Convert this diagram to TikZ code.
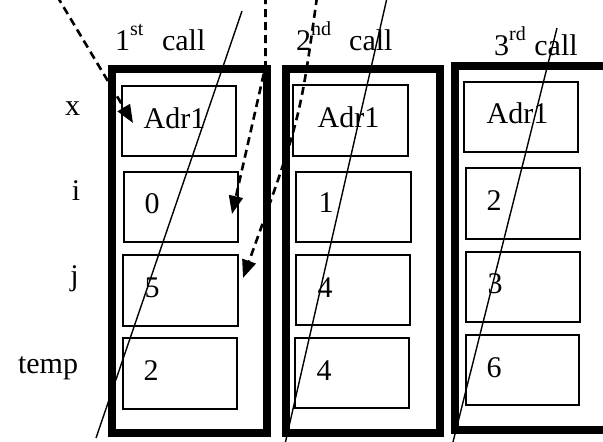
\documentclass[tikz,border=0pt]{standalone}
\usepackage{fontspec}
\setmainfont{Liberation Serif}
\usetikzlibrary{arrows.meta}
\newcommand{\supx}[1]{\raisebox{15pt}{\fontsize{20}{20}\selectfont #1}}
\begin{document}
\begin{tikzpicture}[x=1pt,y=-1pt,
  frame/.style={draw,line width=8pt,line join=miter},
  cell/.style={draw,line width=1.7pt,minimum width=114pt,minimum height=70pt,inner sep=0pt},
  txt/.style={anchor=base,inner sep=0pt,font=\fontsize{30}{30}\selectfont},
  ttl/.style={anchor=base west,inner sep=0pt,font=\fontsize{30}{30}\selectfont},
  slash/.style={line width=1.4pt},
  ptr/.style={line width=2.6pt,dash pattern=on 8pt off 5pt,-{Triangle[length=18pt,width=14pt]}}]
\useasboundingbox (0,0) rectangle (603,442);
\clip (0,0) rectangle (603,442);
% frames
\draw[frame] (112,69) rectangle (267,433);
\draw[frame] (286,69) rectangle (440,433);
\draw[frame] (455,66) rectangle (620,430);
% titles
\node[ttl] (t1) at (115,50) {1\supx{st}\hspace{18.5pt}call};
\node[ttl] (t2) at (296,50) {2\supx{nd}\hspace{18pt}call};
\node[ttl] (t3) at (494,55) {3\supx{rd}\hspace{8.5pt}call};
% row labels
\node[txt] (lx) at (72.5,115) {x};
\node[txt] (li) at (76,200) {i};
\node[txt] (lj) at (74.5,285.5) {j};
\node[txt] (lt) at (48,373) {temp};
% first call cells
\node[cell] (a1) at (179,121) {};
\node[cell] (b1) at (181,207) {};
\node[cell,minimum width=115pt,minimum height=71pt] (c1) at (180.5,290.5) {};
\node[cell,minimum height=71pt] (d1) at (180,373.5) {};
% second call cells
\node[cell,minimum width=115pt,minimum height=71pt] (a2) at (350.5,120.5) {};
\node[cell,minimum width=115pt] (b2) at (353.5,207) {};
\node[cell] (c2) at (353,290) {};
\node[cell] (d2) at (352,373) {};
% third call cells
\node[cell] (a3) at (521,117) {};
\node[cell,minimum height=71pt] (b3) at (523,203.5) {};
\node[cell] (c3) at (523,287) {};
\node[cell,minimum width=113pt] (d3) at (522.5,370) {};
% values
\node[txt] (va1) at (174.5,128) {Adr1};
\node[txt] (vb1) at (152,213) {0};
\node[txt] (vc1) at (152,297) {5};
\node[txt] (vd1) at (151,380) {2};
\node[txt] (va2) at (348.5,127) {Adr1};
\node[txt] (vb2) at (326,212) {1};
\node[txt] (vc2) at (325,297) {4};
\node[txt] (vd2) at (324,380) {4};
\node[txt] (va3) at (517.5,123) {Adr1};
\node[txt] (vb3) at (494,210) {2};
\node[txt] (vc3) at (495,293) {3};
\node[txt] (vd3) at (494,377) {6};
% slanted lines
\coordinate (s1a) at (242,11);  \coordinate (s1b) at (96,438);
\coordinate (s2a) at (387,-2);  \coordinate (s2b) at (285,444);
\coordinate (s3a) at (557,28);  \coordinate (s3b) at (452,446);
\draw[slash] (s1a) -- (s1b);
\draw[slash] (s2a) -- (s2b);
\draw[slash] (s3a) -- (s3b);
% dashed pointers
\coordinate (p1s) at (57,-4);   \coordinate (p1e) at (133,123);
\coordinate (p2s) at (265.5,-4); \coordinate (p2m) at (265.5,66); \coordinate (p2e) at (232,214);
\coordinate (p3s) at (317,-3);  \coordinate (p3e) at (243,278);
\draw[ptr] (p1s) -- (p1e);
\draw[ptr] (p2s) -- (p2m) -- (p2e);
\draw[ptr] (p3s) .. controls (300,120) .. (p3e);
\end{tikzpicture}
\end{document}
